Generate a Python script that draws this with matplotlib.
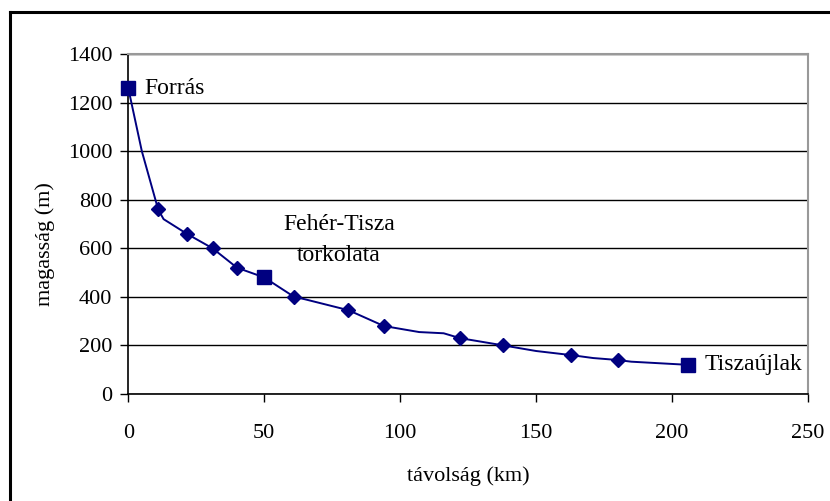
import matplotlib
matplotlib.use("Agg")
from matplotlib import pyplot as plt
from matplotlib.lines import Line2D

# river profile (line points)
line_km = [0, 5, 11, 13, 21.5, 31, 40, 50, 61, 65, 81, 94, 107, 116, 122, 138, 150, 163, 171, 180, 185, 206]
line_m = [1260, 1000, 760, 720, 660, 600, 520, 480, 400, 390, 345, 280, 255, 250, 230, 200, 177, 160, 148, 140, 133, 120]

# diamond markers
dia_km = [11, 21.5, 31, 40, 61, 81, 94, 122, 138, 163, 180]
dia_m = [760, 660, 600, 520, 400, 345, 280, 230, 200, 160, 140]

# named places (square markers)
place_km = [0, 50, 206]
place_m = [1260, 480, 120]
place_names = ["Forrás", "Fehér-Tisza\ntorkolata", "Tiszaújlak"]

x_ticks = [0, 50, 100, 150, 200, 250]
y_ticks = [0, 200, 400, 600, 800, 1000, 1200, 1400]

navy = "#000080"
plt.rcParams["font.family"] = ["Liberation Serif", "DejaVu Serif"]

fig = plt.figure(figsize=(8.3, 5.01), dpi=100)
ax = fig.add_axes([0.1545, 0.2136, 0.819, 0.6786])

ax.plot(line_km, line_m, color=navy, lw=1.4, zorder=3, clip_on=False)
ax.plot(dia_km, dia_m, ls="none", marker="D", ms=7, color=navy, zorder=4, clip_on=False)
ax.plot(place_km, place_m, ls="none", marker="s", ms=10.5, color=navy, zorder=5, clip_on=False)

ax.text(place_km[0] + 6, place_m[0], place_names[0], fontsize=17, va="center", ha="left")
ax.text(77.5, 635, place_names[1], fontsize=17, va="center", ha="center", linespacing=1.65)
ax.text(place_km[2] + 6, place_m[2], place_names[2], fontsize=17, va="center", ha="left")

ax.set_xlim(0, 250)
ax.set_ylim(0, 1400)
ax.set_xticks(x_ticks)
ax.set_yticks(y_ticks)
ax.tick_params(labelsize=16, direction="out", length=5.5, color="black", width=1)
ax.tick_params(axis="x", pad=16)
ax.tick_params(axis="y", pad=6)
ax.yaxis.grid(True, color="black", lw=1)
ax.set_axisbelow(True)

for side in ["top", "right"]:
    ax.spines[side].set_color("#999999")
    ax.spines[side].set_linewidth(1.5)
for side in ["left", "bottom"]:
    ax.spines[side].set_color("black")
    ax.spines[side].set_linewidth(1.2)

ax.set_xlabel("távolság (km)", fontsize=16, labelpad=17)
ax.set_ylabel("magasság (m)", fontsize=16, labelpad=10)
ax.yaxis.set_label_coords(-0.107, 0.44)

# outer chart border (only top and left are visible)
fig.add_artist(Line2D([10 / 830, 1.0], [1 - 12 / 501, 1 - 12 / 501], color="black", lw=2.2,
                      transform=fig.transFigure))
fig.add_artist(Line2D([10 / 830, 10 / 830], [0, 1 - 12 / 501], color="black", lw=2.2,
                      transform=fig.transFigure))

fig.savefig("out.png", dpi=100)
